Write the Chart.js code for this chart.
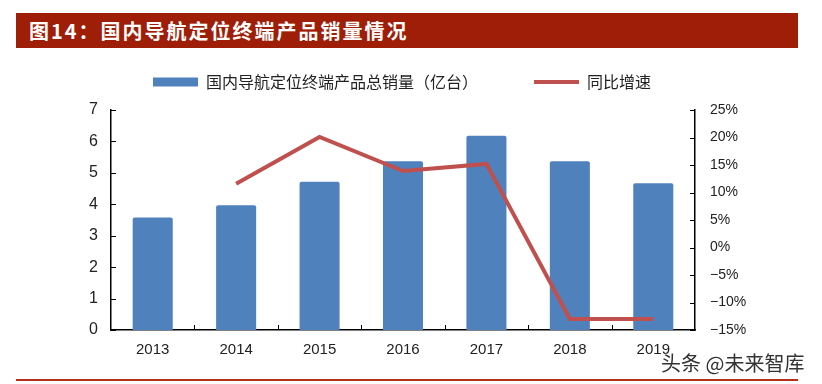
<!DOCTYPE html>
<html>
<head>
<meta charset="utf-8">
<script src="https://cdn.jsdelivr.net/npm/chart.js@4/dist/chart.umd.min.js"></script>
<style>
  html, body { margin: 0; padding: 0; background: #fff; }
  body { width: 822px; height: 384px; position: relative; overflow: hidden; }
  .header {
    position: absolute; left: 16px; top: 13px; width: 782px; height: 35px;
    background: #9f1e08; color: #fff; z-index: 2;
    font: bold 20px "Noto Sans CJK SC", sans-serif; line-height: 35px;
    padding-left: 13px; box-sizing: border-box; letter-spacing: 2px;
  }
  .wrap { position: absolute; left: 0; top: 18px; width: 822px; height: 345px; z-index: 1; }
  .footline { position: absolute; left: 16px; top: 379px; width: 782px; height: 2px; background: #b5301a; }
  .mark {
    position: absolute; left: 661px; top: 349px; z-index: 3;
    font: 20px "Noto Sans CJK SC", sans-serif; line-height: 28px; color: #333;
    text-shadow: 0 0 2px #fff, 0 0 2px #fff;
  }
</style>
</head>
<body>
<div class="header">图14：国内导航定位终端产品销量情况</div>
<div class="wrap"><canvas id="chart"></canvas></div>
<div class="footline"></div>
<div class="mark">头条 @未来智库</div>

<script>
// data
const years = ['2013', '2014', '2015', '2016', '2017', '2018', '2019'];
const sales = [3.58, 3.97, 4.72, 5.37, 6.18, 5.37, 4.67];      // 亿台
const growth = [null, 11.6, 20.1, 13.9, 15.2, -13.0, -13.0];   // %

const salesLabel = '国内导航定位终端产品总销量（亿台）';
const growthLabel = '同比增速';

const BAR_COLOR = '#4f81bd';
const LINE_COLOR = '#c0504d';

// small inward tick marks like the original (office style)
const innerTicks = {
    id: 'innerTicks',
    afterDraw(chart) {
        const { ctx, chartArea: a, scales } = chart;
        ctx.save();
        ctx.strokeStyle = '#000';
        ctx.lineWidth = 1;
        ctx.beginPath();
        scales.y.ticks.forEach((t, i) => {
            const y = Math.round(scales.y.getPixelForTick(i)) + 0.5;
            ctx.moveTo(a.left, y); ctx.lineTo(a.left + 5, y);
        });
        scales.y1.ticks.forEach((t, i) => {
            const y = Math.round(scales.y1.getPixelForTick(i)) + 0.5;
            ctx.moveTo(a.right, y); ctx.lineTo(a.right - 5, y);
        });
        for (let i = 1; i < years.length; i++) {
            const x = Math.round((scales.x.getPixelForTick(i - 1) + scales.x.getPixelForTick(i)) / 2) + 0.5;
            ctx.moveTo(x, a.bottom); ctx.lineTo(x, a.bottom - 5);
        }
        ctx.stroke();
        ctx.restore();
    }
};

// keep the legend's big item gap without pushing the plot down too much
const legendHeight = {
    id: 'legendHeight',
    beforeLayout(chart) {
        const lg = chart.legend;
        if (lg && !lg._fixed) {
            const fit = lg.fit;
            lg.fit = function () { fit.call(this); this.height = 92; };
            lg._fixed = true;
        }
    }
};

new Chart(document.getElementById('chart'), {
    type: 'bar',
    data: {
        labels: years,
        datasets: [
            {
                label: salesLabel,
                data: sales,
                backgroundColor: BAR_COLOR,
                borderRadius: 2,
                barPercentage: 0.96,
                categoryPercentage: 0.5,
                pointStyle: 'rect',
                yAxisID: 'y',
                order: 1
            },
            {
                type: 'line',
                label: growthLabel,
                data: growth,
                borderColor: LINE_COLOR,
                backgroundColor: LINE_COLOR,
                borderWidth: 4,
                tension: 0,
                pointRadius: 0,
                pointStyle: 'line',
                yAxisID: 'y1',
                order: 0
            }
        ]
    },
    options: {
        responsive: true,
        maintainAspectRatio: false,
        animation: false,
        layout: { padding: { right: 18 } },
        plugins: {
            legend: {
                position: 'top',
                labels: {
                    usePointStyle: true,
                    pointStyleWidth: 45,
                    boxHeight: 9,
                    padding: 56,
                    color: '#222',
                    font: { family: '"Noto Sans CJK SC", sans-serif', size: 16 },
                    sort: (a, b) => a.datasetIndex - b.datasetIndex
                }
            },
            tooltip: { enabled: false }
        },
        scales: {
            x: {
                grid: { display: false, drawTicks: false },
                border: { display: true, color: '#000', width: 1.5 },
                ticks: { color: '#222', padding: 11, font: { family: '"Liberation Sans", Arial, sans-serif', size: 15 } },
                afterFit: (s) => { s.height = 33; }
            },
            y: {
                position: 'left',
                min: 0, max: 7,
                grid: { display: false, drawTicks: false },
                border: { display: true, color: '#000', width: 1.5 },
                ticks: { stepSize: 1, color: '#222', padding: 13, font: { family: '"Liberation Sans", Arial, sans-serif', size: 16 } },
                afterFit: (s) => { s.width = 111; }
            },
            y1: {
                position: 'right',
                min: -15, max: 25,
                grid: { display: false, drawTicks: false },
                border: { display: true, color: '#000', width: 1.5 },
                ticks: {
                    stepSize: 5, color: '#222', padding: 15,
                    font: { family: '"Liberation Sans", Arial, sans-serif', size: 14 },
                    callback: (v) => (v < 0 ? '\u2212' + Math.abs(v) : v) + '%'
                },
                afterFit: (s) => { s.width = 109; }
            }
        }
    },
    plugins: [innerTicks, legendHeight]
});
</script>
</body>
</html>
